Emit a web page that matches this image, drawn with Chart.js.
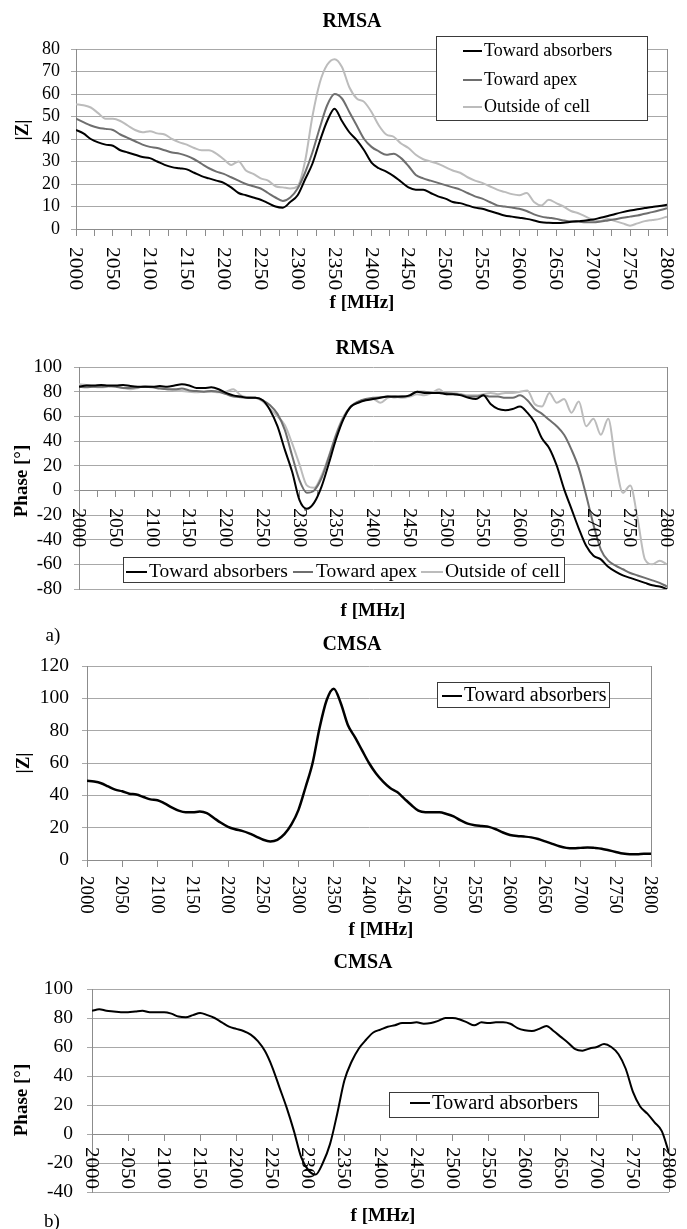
<!DOCTYPE html>
<html>
<head>
<meta charset="utf-8">
<script src="https://cdn.jsdelivr.net/npm/chart.js@4.4.1/dist/chart.umd.min.js"></script>
<style>
html,body{margin:0;padding:0;background:#fff;width:687px;height:1229px;overflow:hidden;}
.box{position:absolute;left:0;width:687px;}
</style>
</head>
<body>
<div class="box" style="top:0;height:318px"><canvas id="c1"></canvas></div>
<div class="box" style="top:318px;height:302px"><canvas id="c2"></canvas></div>
<div class="box" style="top:620px;height:320px"><canvas id="c3"></canvas></div>
<div class="box" style="top:940px;height:289px"><canvas id="c4"></canvas></div>
<script>
// ---------- data ----------
const freq = [2000,2010,2020,2030,2040,2050,2060,2070,2080,2090,
  2100,2110,2120,2130,2140,2150,2160,2170,2180,2190,
  2200,2210,2220,2230,2240,2250,2260,2270,2280,2290,
  2300,2310,2320,2330,2340,2350,2360,2370,2380,2390,
  2400,2410,2420,2430,2440,2450,2460,2470,2480,2490,
  2500,2510,2520,2530,2540,2550,2560,2570,2580,2590,
  2600,2610,2620,2630,2640,2650,2660,2670,2680,2690,
  2700,2710,2720,2730,2740,2750,2760,2770,2780,2790,2800];

const xTickLabels = ['2000','2050','2100','2150','2200','2250','2300','2350','2400',
  '2450','2500','2550','2600','2650','2700','2750','2800'];

const seriesNames = ['Toward absorbers','Toward apex','Outside of cell'];

// RMSA |Z|
const zRmsaAbsorbers = [44,42.5,40,38.5,37.5,37,35,34,33,32,
  31.5,30,28.5,27.5,27,26.5,25,23.5,22.5,21.5,
  20.5,18.5,16,15,14,13,11.5,10,9.5,12,
  15,22,29,39,48,53.5,48,43,39.5,35,
  29.5,27,25.5,23.5,21,18.5,17.5,17.5,16,14.5,
  13.5,12,11.5,10.5,9.5,9,8,7,6,5.5,
  5,4.5,3.8,3,2.8,2.7,2.8,3.2,3.5,3.8,
  4.2,5,5.8,6.7,7.5,8.2,8.8,9.3,9.8,10.2,10.8];
const zRmsaApex = [49,47.5,46,45,44.5,44,42,40.5,39,37.5,
  36.5,36,35,34,33.5,32.5,31,29,27,25.5,
  24.5,23,21.5,20,19,18,16,14,12.5,14,
  18,25,34,45,55,60,58,52,46,40,
  36.5,34.5,33,33.5,31.5,28,24,22.5,21.5,20.5,
  19.5,18.5,17.5,16,14.5,13.5,12,10.5,10,9.5,
  9,8,6.5,5.5,5,4.5,3.8,3.3,3.2,3,
  3,3.3,3.8,4.3,5,5.5,6,6.8,7.5,8.3,9.2];
const zRmsaOutside = [55.5,55,54,51.5,49,49,48,46,44,43,
  43.5,42.5,42,40,38.5,37.5,36,35,35,33.5,
  31,28.5,30,26,24.5,22.5,21.5,19,18.5,18,
  19,30,50,65,73,75.5,72,63,58,56.5,
  52,46,42,41,38,36,33,31,30,29,
  27.5,26,25,23,21.5,20.5,19,17.5,16.5,15.5,
  15,16,12,10.5,13,11.5,10,8,7,5.5,
  4,3.5,4.5,3.5,2.5,1.5,2.5,3.5,4,4.5,5.5];

// RMSA phase
const phRmsaAbsorbers = [84,85,85,85.5,85,85,85.5,84.5,84,84,
  84,84.5,84,85,86,85,83,83,83.5,82,
  79,77,76,75,75,73,65,52,33,15,
  -8,-15,-10,3,22,42,58,68,71,73,
  74,75,76,76,76,77,80,79,79,79,
  78,78,77,75,74,77,70,66,65,66,
  68,63,55,42,34,20,1,-15,-31,-45,
  -53,-56,-62,-66,-69,-71,-73,-75,-77,-78,-80];
const phRmsaApex = [84,83.5,84,84,84.5,84,83,83,83.5,84,
  83.5,82.5,82,82,82.5,81,80.5,80,80.5,80,
  78,76,75.5,75,75,73,69,62,49,28,
  8,-2,0,10,27,45,59,68,72,74,
  75,75.5,76,75.5,76,77,80,80,79,79,
  79,78,77.5,76,76,77,76,76,75,75,
  77,73,66,62,57,52,45,33,18,-4,
  -28,-48,-57,-61,-64,-67,-69,-71,-73,-75,-78];
const phRmsaOutside = [86,85.5,84,83.5,84,84.5,83,82,83,84.5,
  84,83,82,81,80.5,80,79.5,80,80,79.5,
  80,82,77,75.5,75,72,66,60,53,38,
  21,4,2,12,28,46,60,68,72,73,
  74,71,75,76,75,76,78,77,79,82,
  78,79,78,77,77,78,79,78,79,79,
  80,81,70,68,79,71,74,63,72,52,
  58,45,58,23,-2,4,-23,-56,-60,-57,-60];

// CMSA |Z|
const zCmsaAbsorbers = [49,48.5,47.5,45.5,43.5,42.5,41,40.5,39,37.5,
  37,35,32.5,30.5,29.5,29.5,30,29,26,23,
  20.5,19,18,16.5,14.5,12.5,11.5,12.5,16,22,
  31,45,60,82,99,106,97,83.5,76,68,
  60,53.5,48.5,44.5,42,38,34,30.5,29.5,29.5,
  29.5,28.5,27,24.5,22.5,21.5,21,20.5,19,17,
  15.5,14.8,14.5,14,13,11.5,10,8.5,7.5,7.2,
  7.5,7.8,7.5,7,6,5,4,3.5,3.5,3.8,3.8];

// CMSA phase
const phCmsaAbsorbers = [85,86,85,84.5,84,84,84.5,85,84,84,
  84,83,81,80.5,82,83.5,82,80,77,74,
  72.5,71,68.5,64,57,46,32,18,2,-16,
  -25,-28,-20,-7,14,37,50,59,65,70,
  72,74,75,76.5,76.5,77,76,76.5,78,80,
  80,79,77,75,77,76.5,77,77,76,73,
  71.5,71,72.5,74.5,71,67,63,58.5,57.5,59,
  60,62,60,55,45,29,19,14,8,2,-13];

// ---------- style ----------
const SERIF = "'Liberation Serif', 'Times New Roman', serif";
const GRID = '#a8a8a8';
const AXIS = '#8c8c8c';
const COLORS = ['#000000', '#6e6e6e', '#bcbcbc'];

const decorPlugin = {
  id: 'decor',
  afterDraw(chart, args, o) {
    const ctx = chart.ctx, ca = chart.chartArea;
    const xs = chart.scales.x, ys = chart.scales.y;
    ctx.save();
    // right border of plot area
    ctx.strokeStyle = AXIS; ctx.lineWidth = 1;
    const rx = Math.round(ca.right) + 0.5;
    ctx.beginPath(); ctx.moveTo(rx, ca.top); ctx.lineTo(rx, ca.bottom); ctx.stroke();

    // rotated x tick labels (reading top to bottom)
    const axisY = ys.getPixelForValue(0);
    ctx.fillStyle = '#000';
    ctx.font = o.xFont + 'px ' + SERIF;
    xTickLabels.forEach(lbl => {
      const px = xs.getPixelForValue(Number(lbl));
      ctx.save();
      ctx.translate(px, axisY + o.xOffset);
      ctx.rotate(Math.PI / 2);
      ctx.scale(o.xStretch, 1);
      ctx.textAlign = 'left';
      ctx.textBaseline = 'alphabetic';
      ctx.fillText(lbl, 0, o.xFont * 0.33);
      ctx.restore();
    });

    // texts
    const txt = (t, bold) => {
      ctx.font = (bold ? 'bold ' : '') + t.size + 'px ' + SERIF;
      ctx.textAlign = 'center'; ctx.textBaseline = 'alphabetic';
      ctx.fillText(t.text, t.x, t.y + t.size * 0.33);
    };
    txt(o.title, true);
    txt(o.xTitle, true);
    if (o.tag) txt(o.tag, false);
    // y title rotated
    ctx.save();
    ctx.translate(o.yTitle.x, o.yTitle.y);
    ctx.rotate(-Math.PI / 2);
    ctx.font = 'bold ' + o.yTitle.size + 'px ' + SERIF;
    ctx.textAlign = 'center'; ctx.textBaseline = 'alphabetic';
    ctx.fillText(o.yTitle.text, 0, o.yTitle.size * 0.33);
    ctx.restore();

    // legend
    const L = o.legend;
    ctx.fillStyle = '#fff';
    ctx.fillRect(L.box[0], L.box[1], L.box[2], L.box[3]);
    ctx.strokeStyle = '#3a3a3a'; ctx.lineWidth = 1;
    ctx.strokeRect(L.box[0] + 0.5, L.box[1] + 0.5, L.box[2], L.box[3]);
    chart.data.datasets.forEach((ds, i) => {
      const it = L.items[i];
      ctx.strokeStyle = ds.borderColor; ctx.lineWidth = 2;
      ctx.beginPath(); ctx.moveTo(it[0], it[3]); ctx.lineTo(it[1], it[3]); ctx.stroke();
      ctx.fillStyle = '#000';
      ctx.font = L.font + 'px ' + SERIF;
      ctx.textAlign = 'left'; ctx.textBaseline = 'alphabetic';
      ctx.fillText(ds.label, it[2], it[3] + L.font * 0.27);
    });
    ctx.restore();
  }
};

function makeChart(id, cfg) {
  const datasets = cfg.series.map((vals, i) => ({
    label: seriesNames[i],
    data: freq.map((f, k) => ({x: f, y: vals[k]})),
    borderColor: COLORS[i],
    borderWidth: cfg.lineWidth,
    pointRadius: 0,
    cubicInterpolationMode: 'monotone',
    fill: false
  }));
  return new Chart(document.getElementById(id), {
    type: 'line',
    data: {datasets},
    options: {
      responsive: true,
      maintainAspectRatio: false,
      animation: false,
      events: [],
      layout: {padding: cfg.padding},
      plugins: {legend: {display: false}, tooltip: {enabled: false}, title: {display: false}, decor: cfg.decor},
      scales: {
        x: {
          type: 'linear', min: 2000, max: 2800,
          position: {y: 0},
          ticks: {display: false, stepSize: cfg.xStep},
          grid: {drawOnChartArea: false, drawTicks: true, tickLength: 6, color: AXIS},
          border: {display: true, color: AXIS}
        },
        y: {
          min: cfg.yMin, max: cfg.yMax,
          ticks: {stepSize: cfg.yStep, autoSkip: false, color: '#000', font: {family: SERIF, size: cfg.yFont}, padding: cfg.yPad},
          grid: {color: GRID, tickLength: 5},
          border: {color: AXIS},
          afterFit: s => { s.width = cfg.plotLeft; }
        }
      }
    },
    plugins: [decorPlugin]
  });
}

makeChart('c1', {
  series: [zRmsaAbsorbers, zRmsaApex, zRmsaOutside],
  yMin: 0, yMax: 80, yStep: 10, xStep: 25, yFont: 18, yPad: 11, lineWidth: 2,
  plotLeft: 76,
  padding: {left: 0, right: 20, top: 49, bottom: 89},
  decor: {
    title: {text: 'RMSA', x: 352, y: 20, size: 20},
    xTitle: {text: 'f [MHz]', x: 362, y: 302, size: 19},
    yTitle: {text: '|Z|', x: 22, y: 130, size: 19},
    xFont: 18, xOffset: 18, xStretch: 1.2,
    legend: {box: [436, 36, 211, 84], font: 18,
      items: [[463, 482, 484, 51], [463, 482, 484, 80], [463, 482, 484, 107]]}
  }
});

makeChart('c2', {
  series: [phRmsaAbsorbers, phRmsaApex, phRmsaOutside],
  yMin: -80, yMax: 100, yStep: 20, xStep: 25, yFont: 19, yPad: 12, lineWidth: 2,
  plotLeft: 79,
  padding: {left: 0, right: 20, top: 49, bottom: 31},
  decor: {
    title: {text: 'RMSA', x: 365, y: 29.5, size: 20},
    xTitle: {text: 'f [MHz]', x: 373, y: 292, size: 19},
    yTitle: {text: 'Phase [°]', x: 21, y: 163, size: 19},
    xFont: 18, xOffset: 18, xStretch: 1.08,
    legend: {box: [123, 239, 441, 25], font: 19.5,
      items: [[126, 147, 149, 254], [293, 313, 316, 254], [421, 443, 445, 254]]}
  }
});

makeChart('c3', {
  series: [zCmsaAbsorbers],
  yMin: 0, yMax: 120, yStep: 20, xStep: 50, yFont: 19.5, yPad: 13, lineWidth: 2.5,
  plotLeft: 87,
  padding: {left: 0, right: 36, top: 46, bottom: 80},
  decor: {
    title: {text: 'CMSA', x: 352, y: 23.5, size: 20},
    xTitle: {text: 'f [MHz]', x: 381, y: 309, size: 19},
    yTitle: {text: '|Z|', x: 23, y: 143, size: 19},
    tag: {text: 'a)', x: 53, y: 15, size: 19},
    xFont: 18, xOffset: 16, xStretch: 1.05,
    legend: {box: [437, 62, 172, 25], font: 20,
      items: [[442, 462, 464, 76]]}
  }
});

makeChart('c4', {
  series: [phCmsaAbsorbers],
  yMin: -40, yMax: 100, yStep: 20, xStep: 50, yFont: 19.5, yPad: 14, lineWidth: 2,
  plotLeft: 92,
  padding: {left: 0, right: 18, top: 49, bottom: 37},
  decor: {
    title: {text: 'CMSA', x: 363, y: 21.5, size: 20},
    xTitle: {text: 'f [MHz]', x: 383, y: 275, size: 19},
    yTitle: {text: 'Phase [°]', x: 21, y: 160, size: 19},
    tag: {text: 'b)', x: 52, y: 281, size: 19},
    xFont: 18, xOffset: 13, xStretch: 1.17,
    legend: {box: [389, 152, 209, 25], font: 20.5,
      items: [[410, 430, 432, 163]]}
  }
});
</script>
</body>
</html>
